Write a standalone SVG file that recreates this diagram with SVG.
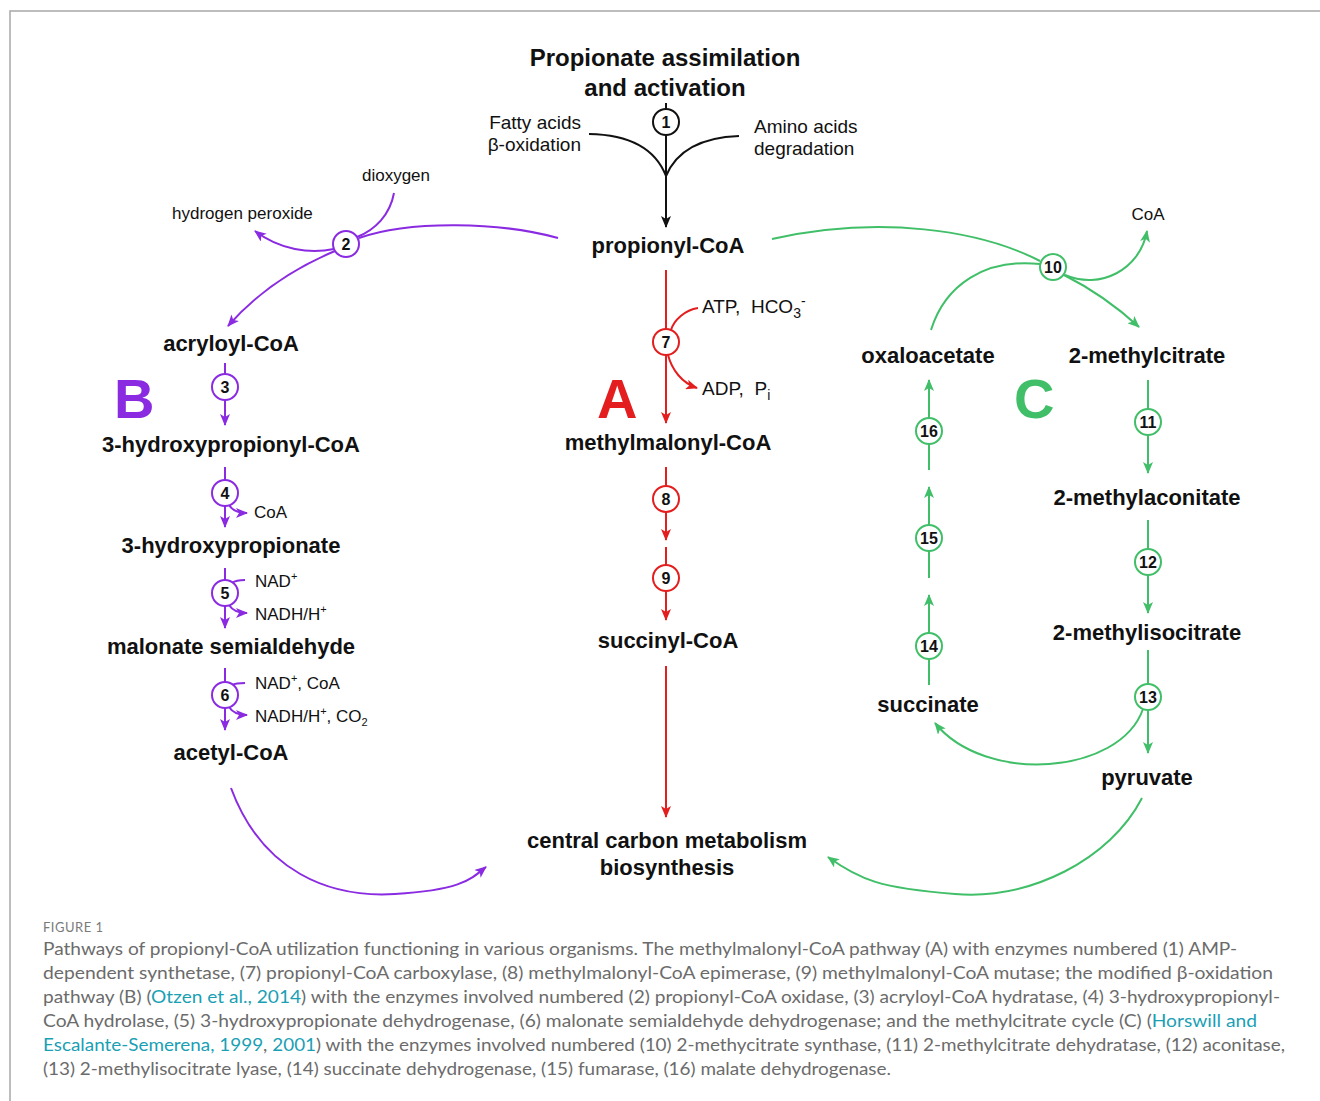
<svg xmlns="http://www.w3.org/2000/svg" width="1320" height="1101" viewBox="0 0 1320 1101">
<style>
.lbl{font-family:"Liberation Sans",Arial,sans-serif;font-weight:bold;font-size:22px;fill:#111;text-anchor:middle}
.sm{font-family:"Liberation Sans",Arial,sans-serif;font-size:17px;fill:#111}
.md{font-family:"Liberation Sans",Arial,sans-serif;font-size:19px;fill:#111}
.num{font-family:"Liberation Sans",Arial,sans-serif;font-weight:bold;font-size:16px;fill:#111;text-anchor:middle}
.big{font-family:"Liberation Sans",Arial,sans-serif;font-weight:bold;font-size:56px}
.k{stroke:#111;fill:none;stroke-width:2}
.p{stroke:#8a2be2;fill:none;stroke-width:2}
.r{stroke:#e41e1e;fill:none;stroke-width:2}
.g{stroke:#40bf68;fill:none;stroke-width:2}
.cap{font-family:Lato,"Open Sans",sans-serif;font-size:17px;fill:#6b6b6b}
.lnk{fill:#1a9fb5}
</style>
<defs>
<marker id="ak" viewBox="0 0 12 10" refX="11" refY="5" markerWidth="12" markerHeight="10" orient="auto" markerUnits="userSpaceOnUse"><path d="M0,0 L12,5 L0,10 L3,5 z" fill="#111"/></marker>
<marker id="ap" viewBox="0 0 12 10" refX="11" refY="5" markerWidth="12" markerHeight="10" orient="auto" markerUnits="userSpaceOnUse"><path d="M0,0 L12,5 L0,10 L3,5 z" fill="#8a2be2"/></marker>
<marker id="ar" viewBox="0 0 12 10" refX="11" refY="5" markerWidth="12" markerHeight="10" orient="auto" markerUnits="userSpaceOnUse"><path d="M0,0 L12,5 L0,10 L3,5 z" fill="#e41e1e"/></marker>
<marker id="ag" viewBox="0 0 12 10" refX="11" refY="5" markerWidth="12" markerHeight="10" orient="auto" markerUnits="userSpaceOnUse"><path d="M0,0 L12,5 L0,10 L3,5 z" fill="#40bf68"/></marker>
</defs>
<rect width="1320" height="1101" fill="#fff"/>
<path d="M10,1101 L10,11 L1320,11" stroke="#a8a8a8" stroke-width="1.5" fill="none"/>

<g id="connectors">
<!-- black -->
<path class="k" d="M666,103 L666,109"/>
<path class="k" d="M666,135 L666,227" marker-end="url(#ak)"/>
<path class="k" d="M589,134 Q650,135 666,176"/>
<path class="k" d="M739,136 Q682,138 666,176"/>
<!-- purple -->
<path class="p" d="M558,238 C500,222 410,220 359,238"/>
<path class="p" d="M394,193 C390,215 375,230 357,237"/>
<path class="p" d="M334,249 C310,254 280,250 255,231" marker-end="url(#ap)"/>
<path class="p" d="M335,251 C290,270 255,295 228,326" marker-end="url(#ap)"/>
<path class="p" d="M225,363 L225,374"/>
<path class="p" d="M225,400 L225,425" marker-end="url(#ap)"/>
<path class="p" d="M225,467 L225,480"/>
<path class="p" d="M225,506 L225,527" marker-end="url(#ap)"/>
<path class="p" d="M229,505 Q234,513 247,513" marker-end="url(#ap)"/>
<path class="p" d="M225,568 L225,580"/>
<path class="p" d="M245,580 Q236,580 232,583"/>
<path class="p" d="M229,605 Q234,613 247,613" marker-end="url(#ap)"/>
<path class="p" d="M225,606 L225,628" marker-end="url(#ap)"/>
<path class="p" d="M225,668 L225,682"/>
<path class="p" d="M245,683 Q236,683 232,685"/>
<path class="p" d="M229,707 Q234,715 247,715" marker-end="url(#ap)"/>
<path class="p" d="M225,708 L225,730" marker-end="url(#ap)"/>
<path class="p" d="M231,788 C262,872 330,898 395,894 S470,880 486,867" marker-end="url(#ap)"/>
<!-- red -->
<path class="r" d="M666,270 L666,329"/>
<path class="r" d="M698,308 C685,310 674,320 671,330"/>
<path class="r" d="M668,355 C672,370 682,383 697,388" marker-end="url(#ar)"/>
<path class="r" d="M666,355 L666,423" marker-end="url(#ar)"/>
<path class="r" d="M666,467 L666,486"/>
<path class="r" d="M666,512 L666,540" marker-end="url(#ar)"/>
<path class="r" d="M666,547 L666,565"/>
<path class="r" d="M666,591 L666,620" marker-end="url(#ar)"/>
<path class="r" d="M666,666 L666,817" marker-end="url(#ar)"/>
<!-- green -->
<path class="g" d="M772,239 C880,215 980,230 1040,261"/>
<path class="g" d="M931,330 C945,285 985,258 1040,264"/>
<path class="g" d="M1065,275 C1100,290 1140,270 1147,231" marker-end="url(#ag)"/>
<path class="g" d="M1064,275 C1090,288 1115,305 1139,327" marker-end="url(#ag)"/>
<path class="g" d="M1148,380 L1148,409"/>
<path class="g" d="M1148,435 L1148,473" marker-end="url(#ag)"/>
<path class="g" d="M1148,520 L1148,549"/>
<path class="g" d="M1148,575 L1148,613" marker-end="url(#ag)"/>
<path class="g" d="M1148,650 L1148,684"/>
<path class="g" d="M1148,710 L1148,753" marker-end="url(#ag)"/>
<path class="g" d="M1143,709 C1120,775 985,785 935,723" marker-end="url(#ag)"/>
<path class="g" d="M929,685 L929,660"/>
<path class="g" d="M929,633 L929,595" marker-end="url(#ag)"/>
<path class="g" d="M929,578 L929,551"/>
<path class="g" d="M929,525 L929,487" marker-end="url(#ag)"/>
<path class="g" d="M929,470 L929,444"/>
<path class="g" d="M929,418 L929,380" marker-end="url(#ag)"/>
<path class="g" d="M1142,798 C1110,860 1030,900 955,894 S860,880 828,857" marker-end="url(#ag)"/>
</g>

<g id="title"><text class="lbl" style="font-size:24px" x="665" y="66">Propionate assimilation</text><text class="lbl" style="font-size:24px" x="665" y="96">and activation</text></g>
<g id="fatty"><text class="md" x="581" y="129" text-anchor="end">Fatty acids</text><text class="md" x="581" y="151" text-anchor="end">β-oxidation</text></g>
<g id="amino"><text class="md" x="754" y="133">Amino acids</text><text class="md" x="754" y="155">degradation</text></g>
<g id="e1"><circle cx="666" cy="122" r="13" fill="#fff" stroke="#111" stroke-width="2"/><text class="num" x="666" y="128">1</text></g>
<g id="propionylcoa"><text class="lbl" x="668" y="253">propionyl-CoA</text></g>

<g id="dioxygen"><text class="sm" x="396" y="181" text-anchor="middle">dioxygen</text></g>
<g id="h2o2"><text class="sm" x="172" y="219">hydrogen peroxide</text></g>
<g id="e2"><circle cx="346" cy="244" r="13" fill="#fff" stroke="#8a2be2" stroke-width="2"/><text class="num" x="346" y="250">2</text></g>
<g id="acryloylcoa"><text class="lbl" x="231" y="351">acryloyl-CoA</text></g>
<g id="labelB"><text class="big" x="114" y="418" fill="#8a2be2">B</text></g>
<g id="e3"><circle cx="225" cy="387" r="13" fill="#fff" stroke="#8a2be2" stroke-width="2"/><text class="num" x="225" y="393">3</text></g>
<g id="hpcoa"><text class="lbl" x="231" y="452">3-hydroxypropionyl-CoA</text></g>
<g id="e4"><circle cx="225" cy="493" r="13" fill="#fff" stroke="#8a2be2" stroke-width="2"/><text class="num" x="225" y="499">4</text><text class="sm" x="254" y="518">CoA</text></g>
<g id="hp"><text class="lbl" x="231" y="553">3-hydroxypropionate</text></g>
<g id="e5"><circle cx="225" cy="593" r="13" fill="#fff" stroke="#8a2be2" stroke-width="2"/><text class="num" x="225" y="599">5</text><text class="sm" x="255" y="587">NAD<tspan dy="-7" font-size="11">+</tspan></text><text class="sm" x="255" y="620">NADH/H<tspan dy="-7" font-size="11">+</tspan></text></g>
<g id="msa"><text class="lbl" x="231" y="654">malonate semialdehyde</text></g>
<g id="e6"><circle cx="225" cy="695" r="13" fill="#fff" stroke="#8a2be2" stroke-width="2"/><text class="num" x="225" y="701">6</text><text class="sm" x="255" y="689">NAD<tspan dy="-7" font-size="11">+</tspan><tspan dy="7">, CoA</tspan></text><text class="sm" x="255" y="722">NADH/H<tspan dy="-7" font-size="11">+</tspan><tspan dy="7">, CO</tspan><tspan dy="4" font-size="11">2</tspan></text></g>
<g id="acetylcoa"><text class="lbl" x="231" y="760">acetyl-CoA</text></g>

<g id="labelA"><text class="big" x="597" y="418" fill="#e41e1e">A</text></g>
<g id="e7"><circle cx="666" cy="342" r="13" fill="#fff" stroke="#e41e1e" stroke-width="2"/><text class="num" x="666" y="348">7</text><text class="md" x="702" y="313" xml:space="preserve">ATP,  HCO<tspan dy="5" font-size="14">3</tspan><tspan dy="-12" font-size="14">-</tspan></text><text class="md" x="702" y="395" xml:space="preserve">ADP,  P<tspan dy="5" font-size="14">i</tspan></text></g>
<g id="mmcoa"><text class="lbl" x="668" y="450">methylmalonyl-CoA</text></g>
<g id="e8"><circle cx="666" cy="499" r="13" fill="#fff" stroke="#e41e1e" stroke-width="2"/><text class="num" x="666" y="505">8</text></g>
<g id="e9"><circle cx="666" cy="578" r="13" fill="#fff" stroke="#e41e1e" stroke-width="2"/><text class="num" x="666" y="584">9</text></g>
<g id="succcoa"><text class="lbl" x="668" y="648">succinyl-CoA</text></g>
<g id="central"><text class="lbl" x="667" y="848">central carbon metabolism</text><text class="lbl" x="667" y="875">biosynthesis</text></g>

<g id="coa10"><text class="sm" x="1148" y="220" text-anchor="middle">CoA</text></g>
<g id="e10"><circle cx="1053" cy="267" r="13" fill="#fff" stroke="#40bf68" stroke-width="2"/><text class="num" x="1053" y="273">10</text></g>
<g id="oaa"><text class="lbl" x="928" y="363">oxaloacetate</text></g>
<g id="mc"><text class="lbl" x="1147" y="363">2-methylcitrate</text></g>
<g id="labelC"><text class="big" x="1014" y="418" fill="#40bf68">C</text></g>
<g id="e11"><circle cx="1148" cy="422" r="13" fill="#fff" stroke="#40bf68" stroke-width="2"/><text class="num" x="1148" y="428">11</text></g>
<g id="mac"><text class="lbl" x="1147" y="505">2-methylaconitate</text></g>
<g id="e12"><circle cx="1148" cy="562" r="13" fill="#fff" stroke="#40bf68" stroke-width="2"/><text class="num" x="1148" y="568">12</text></g>
<g id="mic"><text class="lbl" x="1147" y="640">2-methylisocitrate</text></g>
<g id="e13"><circle cx="1148" cy="697" r="13" fill="#fff" stroke="#40bf68" stroke-width="2"/><text class="num" x="1148" y="703">13</text></g>
<g id="pyruvate"><text class="lbl" x="1147" y="785">pyruvate</text></g>
<g id="succinate"><text class="lbl" x="928" y="712">succinate</text></g>
<g id="e14"><circle cx="929" cy="646" r="13" fill="#fff" stroke="#40bf68" stroke-width="2"/><text class="num" x="929" y="652">14</text></g>
<g id="e15"><circle cx="929" cy="538" r="13" fill="#fff" stroke="#40bf68" stroke-width="2"/><text class="num" x="929" y="544">15</text></g>
<g id="e16"><circle cx="929" cy="431" r="13" fill="#fff" stroke="#40bf68" stroke-width="2"/><text class="num" x="929" y="437">16</text></g>

<g id="caption">
<text x="43" y="932" font-family="Lato,'Open Sans',sans-serif" font-size="13" fill="#7a7a7a" letter-spacing="0.5">FIGURE 1</text>
<text class="cap" x="43" y="955" textLength="1194" lengthAdjust="spacingAndGlyphs">Pathways of propionyl-CoA utilization functioning in various organisms. The methylmalonyl-CoA pathway (A) with enzymes numbered (1) AMP-</text>
<text class="cap" x="43" y="979" textLength="1230" lengthAdjust="spacingAndGlyphs">dependent synthetase, (7) propionyl-CoA carboxylase, (8) methylmalonyl-CoA epimerase, (9) methylmalonyl-CoA mutase; the modified β-oxidation</text>
<text class="cap" x="43" y="1003" textLength="1237" lengthAdjust="spacingAndGlyphs">pathway (B) (<tspan class="lnk">Otzen et al., 2014</tspan>) with the enzymes involved numbered (2) propionyl-CoA oxidase, (3) acryloyl-CoA hydratase, (4) 3-hydroxypropionyl-</text>
<text class="cap" x="43" y="1027" textLength="1214" lengthAdjust="spacingAndGlyphs">CoA hydrolase, (5) 3-hydroxypropionate dehydrogenase, (6) malonate semialdehyde dehydrogenase; and the methylcitrate cycle (C) (<tspan class="lnk">Horswill and</tspan></text>
<text class="cap" x="43" y="1051" textLength="1242" lengthAdjust="spacingAndGlyphs"><tspan class="lnk">Escalante-Semerena, 1999</tspan>, <tspan class="lnk">2001</tspan>) with the enzymes involved numbered (10) 2-methycitrate synthase, (11) 2-methylcitrate dehydratase, (12) aconitase,</text>
<text class="cap" x="43" y="1075" textLength="848" lengthAdjust="spacingAndGlyphs">(13) 2-methylisocitrate lyase, (14) succinate dehydrogenase, (15) fumarase, (16) malate dehydrogenase.</text>
</g>
</svg>
